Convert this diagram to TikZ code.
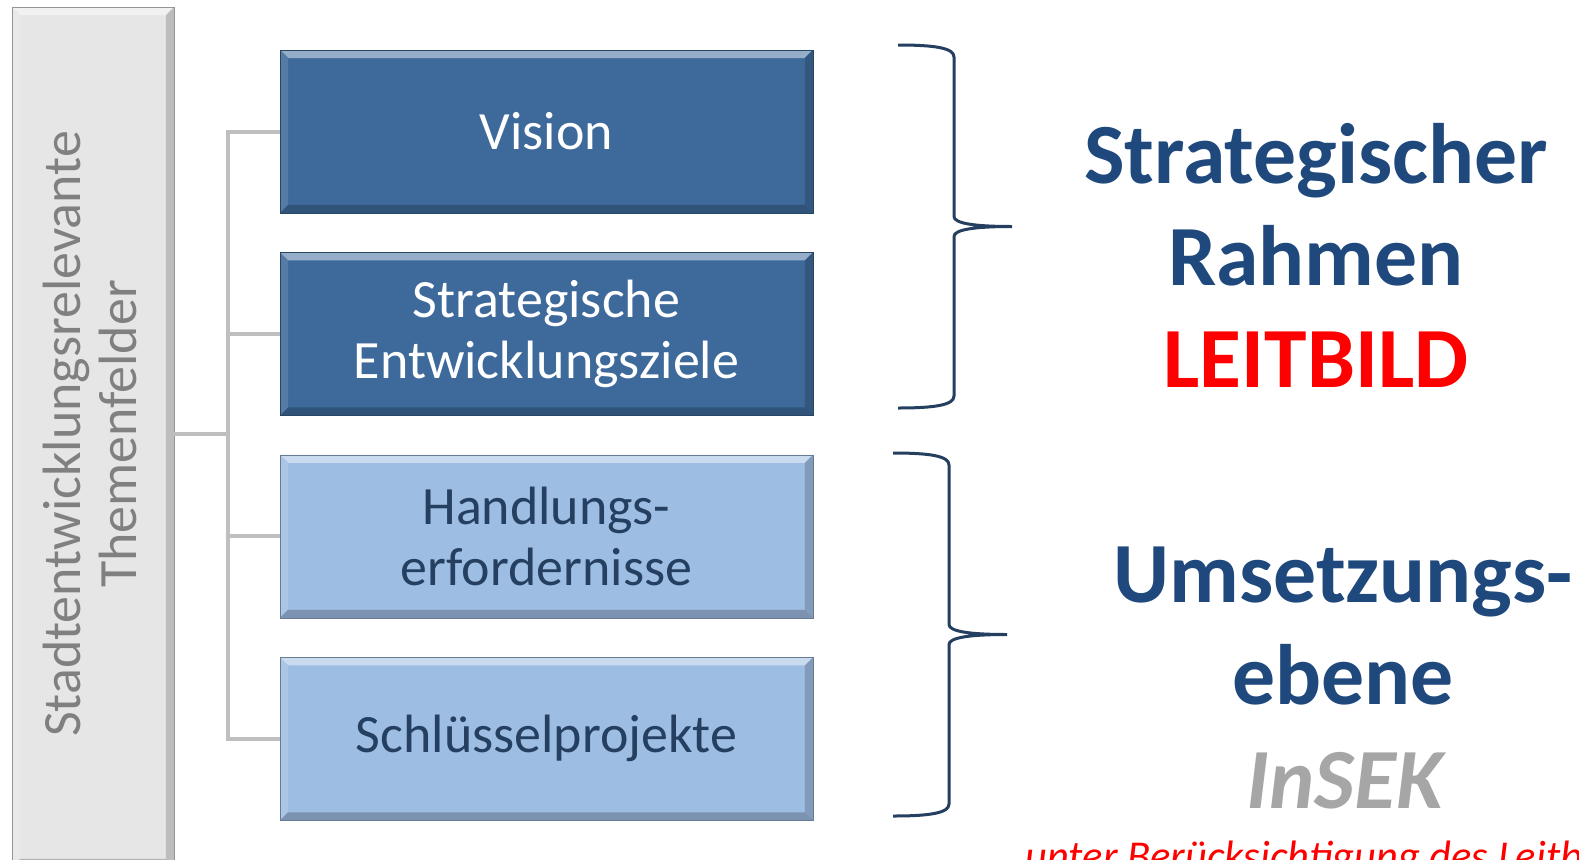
\documentclass[tikz,border=0pt]{standalone}
\usepackage{fontspec}
\setmainfont{Carlito}
\usetikzlibrary{calc,positioning}

\definecolor{deepblue}{HTML}{3E6A9B}
\definecolor{paleblue}{HTML}{9EBDE3}
\definecolor{inkblue}{HTML}{243F60}
\definecolor{headblue}{HTML}{1F497D}
\definecolor{bracecol}{HTML}{243F60}
\definecolor{linkgray}{HTML}{BFBFBF}
\definecolor{panelgray}{HTML}{E6E6E6}
\definecolor{themengray}{HTML}{808080}
\definecolor{insekgray}{HTML}{A6A6A6}
\definecolor{signalred}{HTML}{FF0000}

% bevelled edges round a node: \bevel(node)[colour]
\def\bevel(#1)[#2]{
	\fill[#2!55!white] (#1.north west) -- (#1.north east) -- ($(#1.north east)+(-8,8)$) -- ($(#1.north west)+(8,8)$) -- cycle;
	\fill[#2!88!white] (#1.north west) -- ($(#1.north west)+(8,8)$) -- ($(#1.south west)+(8,-8)$) -- (#1.south west) -- cycle;
	\fill[#2!82!black] (#1.north east) -- ($(#1.north east)+(-8,8)$) -- ($(#1.south east)+(-8,-8)$) -- (#1.south east) -- cycle;
	\fill[#2!78!black] (#1.south west) -- ($(#1.south west)+(8,-8)$) -- ($(#1.south east)+(-8,-8)$) -- (#1.south east) -- cycle;
	\draw[#2!65!black, line width=0.4pt] (#1.north west) rectangle (#1.south east);
}

\tikzset{
	darkbox/.style={rectangle, fill=deepblue, inner sep=0pt, outer sep=0pt,
		minimum width=10.66cm, minimum height=3.26cm, align=center,
		text=white, font=\fontsize{30.7}{34.5}\selectfont},
	lightbox/.style={darkbox, fill=paleblue, text=inkblue},
	panelbox/.style={rectangle, fill=panelgray, inner sep=0pt, outer sep=0pt,
		minimum width=3.24cm, minimum height=17.2cm},
	themen/.style={rotate=90, align=center, text=themengray, inner sep=0pt,
		font=\fontsize{30.7}{32.3}\selectfont},
	link/.style={line width=0.08cm, color=linkgray},
	curly/.style={line width=0.06cm, color=bracecol},
	headline/.style={anchor=base, inner sep=0pt, text=headblue,
		font=\bfseries\fontsize{48.8}{57}\selectfont},
	note/.style={anchor=base, inner sep=0pt, text=signalred,
		font=\itshape\fontsize{24.2}{28}\selectfont}
}

\begin{document}
\begin{tikzpicture}[x=0.02cm, y=-0.02cm]
	\clip (0,0) rectangle (1579,859);
	\fill[white] (0,0) rectangle (1579,859);
	
	%%%%% THEMENFELDER %%%%%
	\node[panelbox] (panel) at (93,437) {};
	\bevel(panel)[panelgray]
	\node[themen] (themen) at (90,434) {Stadtentwicklungsrelevante\\Themenfelder};
	
	%%%%% BOXES %%%%%
	\node[darkbox] (vision) at (546.5,131.5) {Vision};
	\bevel(vision)[deepblue]
	\node[darkbox, below=0.79cm of vision] (ziele) {Strategische\\Entwicklungsziele};
	\bevel(ziele)[deepblue]
	\node[lightbox, below=0.79cm of ziele] (handlung) {Handlungs-\\erfordernisse};
	\bevel(handlung)[paleblue]
	\node[lightbox, below=0.79cm of handlung] (projekte) {Schlüsselprojekte};
	\bevel(projekte)[paleblue]
	
	%%%%% LINKS %%%%%
	\coordinate (hub) at (228,434);
	\draw[link] (panel.east |- hub) -- (hub);
	\draw[link] (vision.west) -- (hub |- vision.west) -- (hub |- projekte.west) -- (projekte.west);
	\foreach \n in {ziele,handlung}
		\draw[link] (hub |- \n.west) -- (\n.west);
	
	%%%%% BRACES %%%%%
	\foreach \bx/\by/\bh in {898/45/363, 893/453/363}
		\draw[curly] (\bx,\by) .. controls +(37,0) and +(0,-9) .. ++(56,12)
			-- ++(0,{\bh/2-22}) .. controls +(0,7) and +(-37,0) .. ++(58,10)
			.. controls +(-37,0) and +(0,-7) .. ++(-58,10)
			-- ++(0,{\bh/2-22}) .. controls +(0,9) and +(37,0) .. ++(-56,12);
	
	%%%%% RIGHT TEXT %%%%%
	\node[headline] (strat) at (1316,183) {Strategischer};
	\node[headline] (rahmen) at (1316,285) {Rahmen};
	\node[headline, text=signalred] (leitbild) at (1316,387) {LEITBILD};
	
	\node[headline] (umsetz) at (1343,602) {Umsetzungs-};
	\node[headline] (ebene) at (1343,704) {ebene};
	\node[headline, text=insekgray, font=\bfseries\itshape\fontsize{48.8}{57}\selectfont] (insek) at (1345,808) {InSEK};
	\node[note] (hinweis) at (1343,870) {unter Berücksichtigung des Leitbildes};
	
\end{tikzpicture}
\end{document}
